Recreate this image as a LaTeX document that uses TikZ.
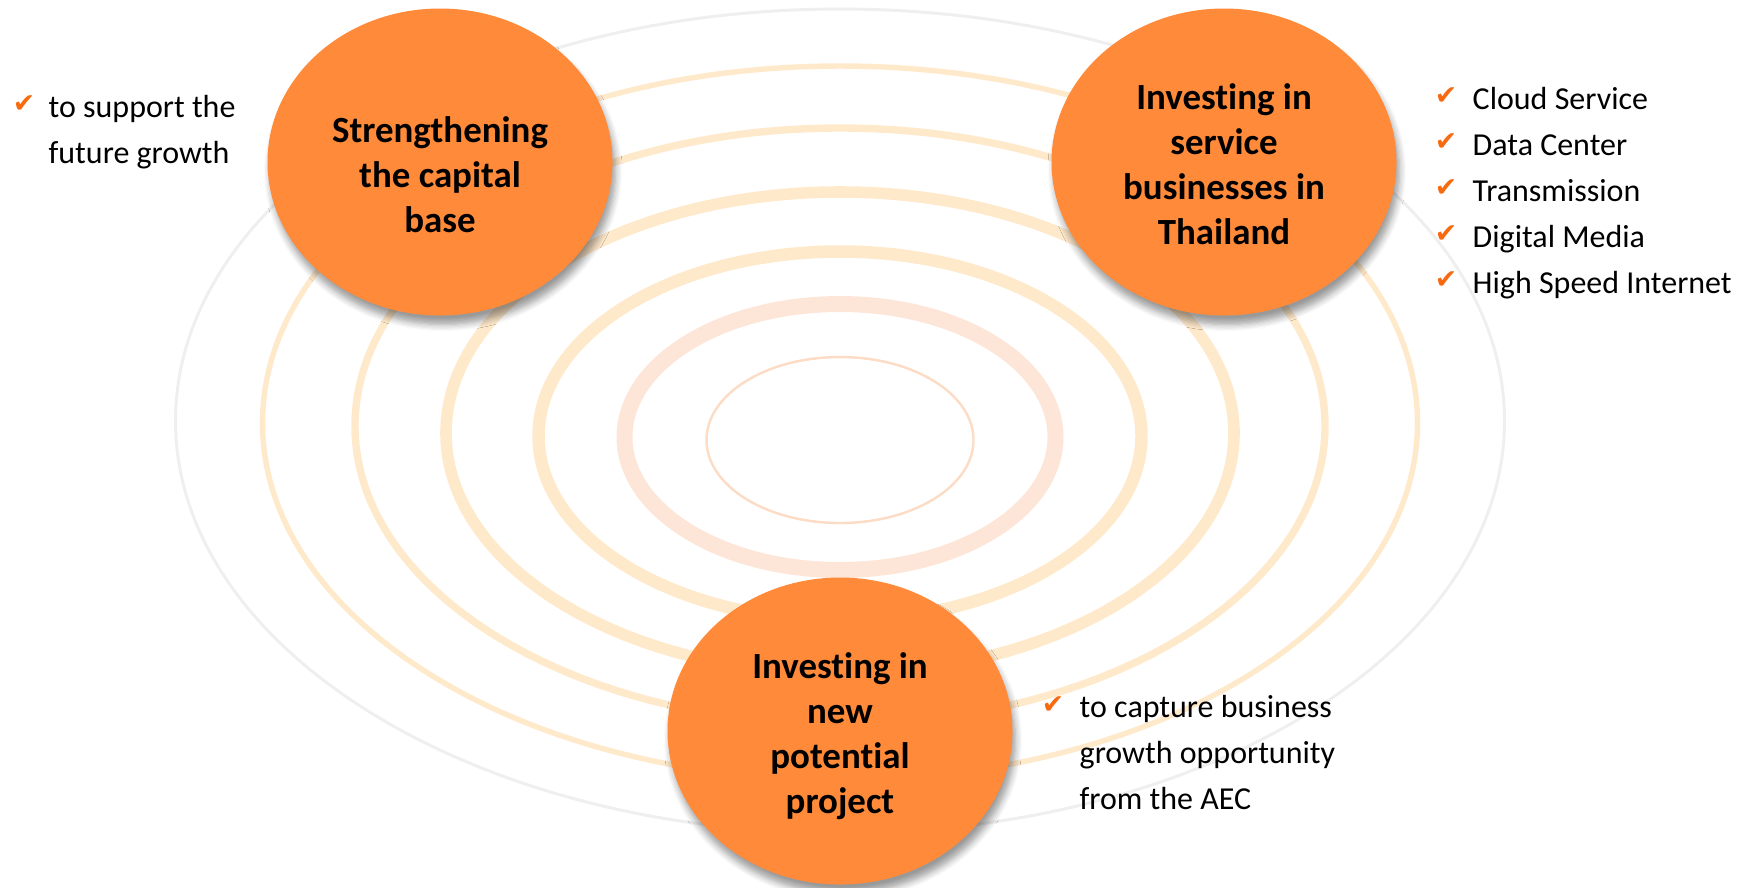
\documentclass[tikz,border=0pt]{standalone}
\usepackage{fontspec}
\setmainfont{Carlito}[Ligatures={CommonOff,RareOff}, Contextuals=AlternateOff, RawFeature=-liga;-dlig;-calt]
\newfontfamily\symfont{DejaVu Sans}
\usetikzlibrary{positioning,shapes.geometric,shadows.blur}
\definecolor{bub}{HTML}{FF8A3A}
\definecolor{tick}{HTML}{F86A10}
\definecolor{peach}{HTML}{FFE9CB}
\definecolor{blush}{HTML}{FDE5D8}
\definecolor{halo}{HTML}{EFEFEF}
\definecolor{core}{HTML}{FDDCC6}

\begin{document}
\begin{tikzpicture}[x=0.1mm, y=-0.1mm,
  b/.style={ellipse, fill=bub, minimum width=34.5mm, minimum height=30.7mm, blur shadow={shadow xshift=0.3mm, shadow yshift=-0.9mm, shadow blur steps=6}},
  t/.style={font=\bfseries\fontsize{10.5}{12.8}\selectfont, align=center, inner sep=0pt},
  k/.style={text=tick, font=\symfont\fontsize{7.6}{8}\selectfont, inner sep=0pt, yshift=1.3pt},
  w/.style={font=\fontsize{9.1}{13}\selectfont, align=left, inner sep=0pt, anchor=base west}]
	\useasboundingbox (0,0) rectangle (1748,887);

	% rings
	\foreach \cy/\rx/\ry/\lw/\col in {421/66.45/41.2/0.85/halo, 423/57.75/35.7/1.55/peach, 426/48.5/29.8/2.1/peach, 433/39.4/24.1/3.3/peach, 436/30.15/18.45/3.55/peach, 437/21.55/13.3/4.55/blush, 440/13.35/8.3/0.7/core}
		\draw[\col, line width=\lw pt] (840,\cy) ellipse [x radius=\rx mm, y radius=\ry mm];

	\node[b] (cap) at (440,162) {};
	\node[b] (svc) at (1224,162) {};
	\node[b] (prj) at (840,731) {};
	\node[t] (cap_t) at (440,175) {Strengthening\\the capital\\base};
	\node[t] (svc_t) at (1224,164) {Investing in\\service\\businesses in\\Thailand};
	\node[t] (prj_t) at (840,736) {Investing in\\new\\potential\\project};

	% last line sets the base, the tick goes on the first
	\node[w] (grow) at (48,163) {to support the\\future growth};
	\node[k, left=1.2mm of grow.base west, anchor=base east, yshift=13pt] (grow_k) {✔};
	\foreach \txt [count=\i] in {Cloud Service, Data Center, Transmission, Digital Media, High Speed Internet} {
		\node[w] (item\i) at (1472,{63+46*\i}) {\txt};
		\node[k, left=1.4mm of item\i.base west, anchor=base east] (item\i_k) {✔};
	}
	\node[w] (aec) at (1079,809) {to capture business\\growth opportunity\\from the AEC};
	\node[k, left=1.4mm of aec.base west, anchor=base east, yshift=26pt] (aec_k) {✔};
\end{tikzpicture}
\end{document}
